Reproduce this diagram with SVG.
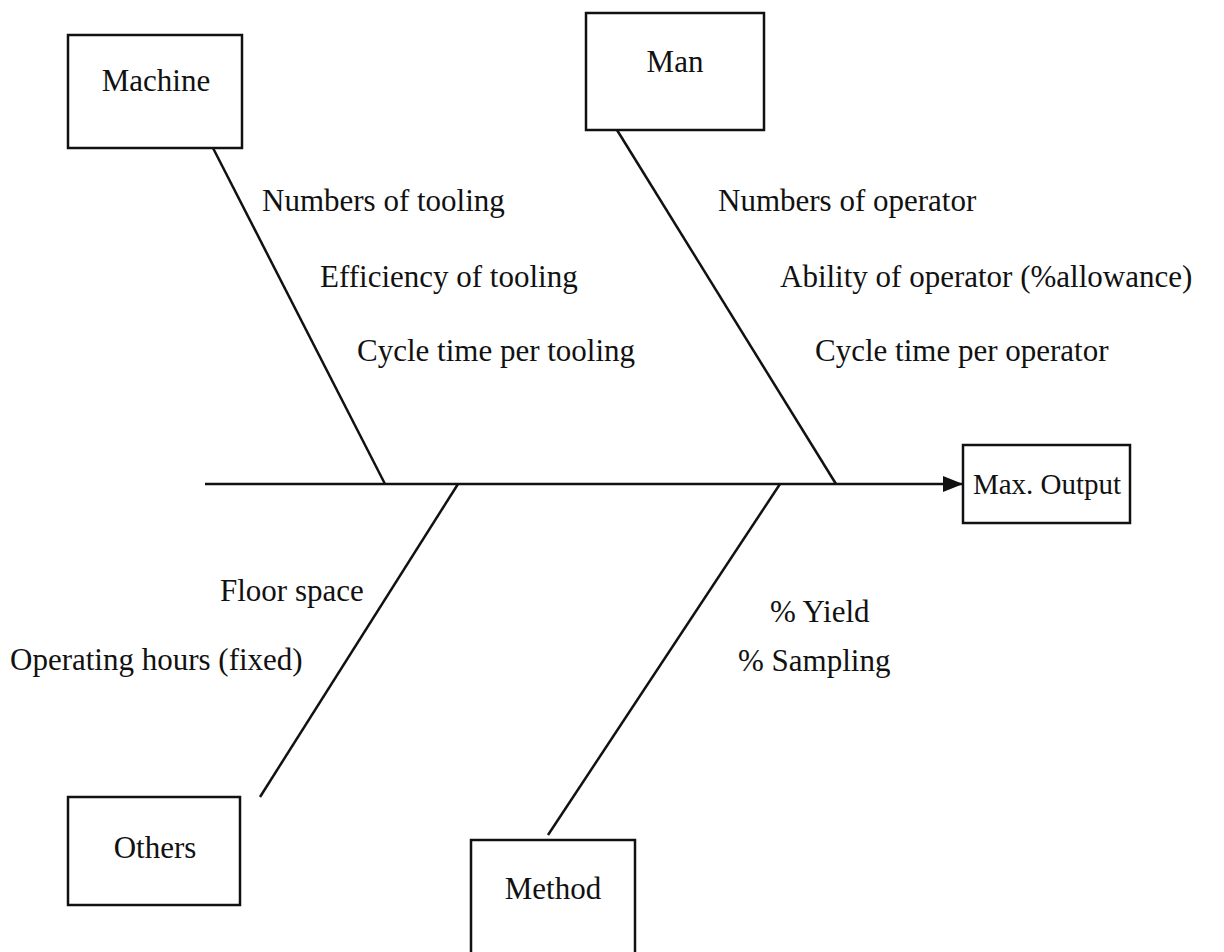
<svg xmlns="http://www.w3.org/2000/svg" width="1224" height="952" viewBox="0 0 1224 952">
<style>
.box{fill:#fff;stroke:#111;stroke-width:2.5}
.ln{stroke:#111;stroke-width:2.5;fill:none}
text{font-family:"Liberation Serif","Times New Roman",serif;font-size:31px;fill:#111}
.c{text-anchor:middle}
.s{font-size:29px}
</style>
<defs>
<marker id="arr" markerWidth="20" markerHeight="16" refX="19" refY="8" orient="auto" markerUnits="userSpaceOnUse" viewBox="0 0 20 16">
<path d="M0,0 L20,8 L0,16 z" fill="#111"/>
</marker>
</defs>
<rect width="1224" height="952" fill="#fff"/>
<g id="connectors">
<line class="ln" x1="205" y1="484" x2="962" y2="484" marker-end="url(#arr)"/>
<line class="ln" x1="213" y1="148" x2="385" y2="484"/>
<line class="ln" x1="617" y1="130" x2="836" y2="484"/>
<line class="ln" x1="458" y1="484" x2="260" y2="797"/>
<line class="ln" x1="780" y1="484" x2="548" y2="835"/>
</g>
<g id="machine"><rect class="box" x="68" y="35" width="174" height="113"/><text class="c" x="156" y="91">Machine</text></g>
<g id="man"><rect class="box" x="586" y="13" width="178" height="117"/><text class="c" x="675" y="72">Man</text></g>
<g id="output"><rect class="box" x="963" y="445" width="167" height="78"/><text class="c s" x="1047" y="494">Max. Output</text></g>
<g id="others"><rect class="box" x="68" y="797" width="172" height="108"/><text class="c" x="155" y="858">Others</text></g>
<g id="method"><rect class="box" x="471" y="840" width="164" height="130"/><text class="c" x="553" y="899">Method</text></g>
<g id="labels">
<text x="262" y="211">Numbers of tooling</text>
<text x="320" y="287">Efficiency of tooling</text>
<text x="357" y="361">Cycle time per tooling</text>
<text x="718" y="211">Numbers of operator</text>
<text x="780" y="287">Ability of operator (%allowance)</text>
<text x="815" y="361">Cycle time per operator</text>
<text x="220" y="601">Floor space</text>
<text x="10" y="670">Operating hours (fixed)</text>
<text x="770" y="622">% Yield</text>
<text x="738" y="671">% Sampling</text>
</g>
</svg>
